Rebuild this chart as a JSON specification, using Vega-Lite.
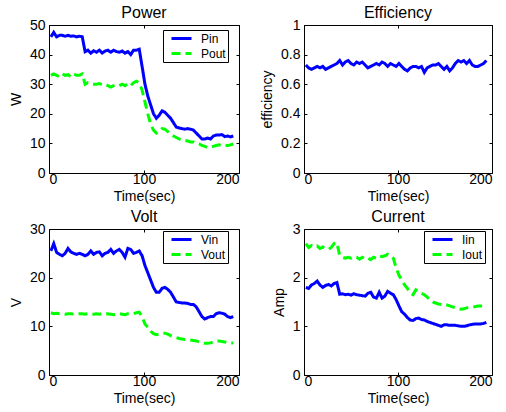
{
"$schema": "https://vega.github.io/schema/vega-lite/v6.json",
"padding": {"left": 8, "top": 4, "right": 5, "bottom": 2},
"datasets": {"d": [
{"t":2,"Pin":46,"Pout":33,"eff":0.73,"Vin":25.5,"Vout":12.8,"Iin":1.80,"Iout":2.70},
{"t":5,"Pin":47.5,"Pout":33.5,"eff":0.71,"Vin":27,"Vout":12.6,"Iin":1.78,"Iout":2.62},
{"t":8,"Pin":46,"Pout":33,"eff":0.70,"Vin":25.2,"Vout":12.7,"Iin":1.85,"Iout":2.66},
{"t":11,"Pin":46.5,"Pout":32.5,"eff":0.71,"Vin":24.8,"Vout":12.6,"Iin":1.88,"Iout":2.63},
{"t":14,"Pin":46.5,"Pout":33.5,"eff":0.72,"Vin":24.5,"Vout":12.6,"Iin":1.93,"Iout":2.65},
{"t":17,"Pin":46.2,"Pout":33,"eff":0.71,"Vin":25,"Vout":12.5,"Iin":1.85,"Iout":2.60},
{"t":20,"Pin":46.5,"Pout":33.2,"eff":0.72,"Vin":26,"Vout":12.6,"Iin":1.80,"Iout":2.63},
{"t":23,"Pin":46.2,"Pout":32.5,"eff":0.70,"Vin":25.3,"Vout":12.6,"Iin":1.84,"Iout":2.60},
{"t":26,"Pin":46.3,"Pout":33.5,"eff":0.71,"Vin":25,"Vout":12.5,"Iin":1.86,"Iout":2.58},
{"t":29,"Pin":46,"Pout":33,"eff":0.72,"Vin":24.8,"Vout":12.6,"Iin":1.83,"Iout":2.62},
{"t":32,"Pin":46.2,"Pout":33,"eff":0.73,"Vin":25,"Vout":12.6,"Iin":1.88,"Iout":2.70},
{"t":35,"Pin":46,"Pout":33.5,"eff":0.74,"Vin":24.8,"Vout":12.6,"Iin":1.90,"Iout":2.72},
{"t":38,"Pin":41,"Pout":30,"eff":0.76,"Vin":24.5,"Vout":12.5,"Iin":1.66,"Iout":2.45},
{"t":41,"Pin":41.5,"Pout":30.5,"eff":0.73,"Vin":24.8,"Vout":12.6,"Iin":1.67,"Iout":2.42},
{"t":44,"Pin":40.5,"Pout":30.2,"eff":0.75,"Vin":25.5,"Vout":12.5,"Iin":1.65,"Iout":2.40},
{"t":47,"Pin":41.3,"Pout":30,"eff":0.76,"Vin":24.8,"Vout":12.5,"Iin":1.66,"Iout":2.42},
{"t":50,"Pin":40.8,"Pout":30,"eff":0.74,"Vin":25.2,"Vout":12.6,"Iin":1.64,"Iout":2.40},
{"t":53,"Pin":41.5,"Pout":30.2,"eff":0.73,"Vin":25.3,"Vout":12.5,"Iin":1.67,"Iout":2.43},
{"t":56,"Pin":40.5,"Pout":29.8,"eff":0.75,"Vin":24.5,"Vout":12.6,"Iin":1.65,"Iout":2.42},
{"t":59,"Pin":41.2,"Pout":30,"eff":0.74,"Vin":25,"Vout":12.5,"Iin":1.64,"Iout":2.38},
{"t":62,"Pin":41.5,"Pout":29.5,"eff":0.75,"Vin":25.2,"Vout":12.6,"Iin":1.63,"Iout":2.42},
{"t":65,"Pin":40.8,"Pout":29,"eff":0.73,"Vin":25.8,"Vout":12.5,"Iin":1.62,"Iout":2.38},
{"t":68,"Pin":41.5,"Pout":29.5,"eff":0.71,"Vin":25,"Vout":12.4,"Iin":1.68,"Iout":2.40},
{"t":71,"Pin":41,"Pout":29.8,"eff":0.72,"Vin":25.5,"Vout":12.5,"Iin":1.70,"Iout":2.37},
{"t":74,"Pin":40.8,"Pout":29.5,"eff":0.73,"Vin":25.8,"Vout":12.6,"Iin":1.60,"Iout":2.42},
{"t":77,"Pin":41.2,"Pout":30,"eff":0.74,"Vin":25.2,"Vout":12.5,"Iin":1.58,"Iout":2.40},
{"t":80,"Pin":40.5,"Pout":29.5,"eff":0.73,"Vin":24.2,"Vout":12.4,"Iin":1.70,"Iout":2.45},
{"t":83,"Pin":41,"Pout":30.2,"eff":0.75,"Vin":26,"Vout":12.6,"Iin":1.58,"Iout":2.43},
{"t":86,"Pin":40,"Pout":29.5,"eff":0.74,"Vin":25.8,"Vout":12.6,"Iin":1.62,"Iout":2.45},
{"t":89,"Pin":41.5,"Pout":30.5,"eff":0.72,"Vin":25,"Vout":12.6,"Iin":1.72,"Iout":2.48},
{"t":92,"Pin":41.5,"Pout":31,"eff":0.74,"Vin":25.2,"Vout":12.8,"Iin":1.68,"Iout":2.44},
{"t":95,"Pin":41.8,"Pout":30.5,"eff":0.73,"Vin":25.5,"Vout":12.9,"Iin":1.65,"Iout":2.40},
{"t":98,"Pin":36,"Pout":28,"eff":0.72,"Vin":24.5,"Vout":12,"Iin":1.55,"Iout":2.20},
{"t":101,"Pin":30,"Pout":24,"eff":0.74,"Vin":22.5,"Vout":10.5,"Iin":1.42,"Iout":2.05},
{"t":104,"Pin":26,"Pout":20,"eff":0.72,"Vin":21,"Vout":9.8,"Iin":1.30,"Iout":1.95},
{"t":107,"Pin":23,"Pout":16.5,"eff":0.70,"Vin":19.5,"Vout":9,"Iin":1.25,"Iout":1.85},
{"t":110,"Pin":20,"Pout":14.5,"eff":0.69,"Vin":18,"Vout":8.5,"Iin":1.18,"Iout":1.78},
{"t":113,"Pin":18.5,"Pout":13.5,"eff":0.71,"Vin":17,"Vout":8.3,"Iin":1.13,"Iout":1.68},
{"t":116,"Pin":19.5,"Pout":14,"eff":0.72,"Vin":17,"Vout":8.4,"Iin":1.12,"Iout":1.65},
{"t":119,"Pin":21,"Pout":15,"eff":0.72,"Vin":17.8,"Vout":8.6,"Iin":1.16,"Iout":1.75},
{"t":122,"Pin":20.5,"Pout":14.8,"eff":0.71,"Vin":18,"Vout":8.6,"Iin":1.17,"Iout":1.72},
{"t":125,"Pin":19.5,"Pout":14,"eff":0.72,"Vin":17.6,"Vout":8.4,"Iin":1.14,"Iout":1.68},
{"t":128,"Pin":18.5,"Pout":13,"eff":0.68,"Vin":17,"Vout":8.1,"Iin":1.13,"Iout":1.65},
{"t":131,"Pin":17,"Pout":12.5,"eff":0.71,"Vin":16,"Vout":7.9,"Iin":1.10,"Iout":1.60},
{"t":134,"Pin":15.5,"Pout":12,"eff":0.72,"Vin":15,"Vout":7.7,"Iin":1.08,"Iout":1.55},
{"t":137,"Pin":15.2,"Pout":11.5,"eff":0.73,"Vin":14.9,"Vout":7.5,"Iin":1.06,"Iout":1.50},
{"t":140,"Pin":15,"Pout":11,"eff":0.73,"Vin":14.8,"Vout":7.4,"Iin":1.04,"Iout":1.48},
{"t":143,"Pin":14.8,"Pout":11,"eff":0.74,"Vin":14.8,"Vout":7.3,"Iin":1.02,"Iout":1.46},
{"t":146,"Pin":15,"Pout":10.8,"eff":0.72,"Vin":14.7,"Vout":7.3,"Iin":1.00,"Iout":1.45},
{"t":149,"Pin":14.8,"Pout":10.5,"eff":0.70,"Vin":14.5,"Vout":7.2,"Iin":1.03,"Iout":1.45},
{"t":152,"Pin":14.5,"Pout":10.5,"eff":0.72,"Vin":14.5,"Vout":7.1,"Iin":1.03,"Iout":1.44},
{"t":155,"Pin":13.5,"Pout":10,"eff":0.69,"Vin":14,"Vout":7,"Iin":1.02,"Iout":1.42},
{"t":158,"Pin":12.5,"Pout":9.8,"eff":0.71,"Vin":13,"Vout":6.8,"Iin":1.02,"Iout":1.40},
{"t":161,"Pin":11.5,"Pout":9.3,"eff":0.74,"Vin":12,"Vout":6.6,"Iin":1.02,"Iout":1.38},
{"t":164,"Pin":11.5,"Pout":9,"eff":0.76,"Vin":11.5,"Vout":6.5,"Iin":1.01,"Iout":1.36},
{"t":167,"Pin":11.8,"Pout":8.6,"eff":0.75,"Vin":11.8,"Vout":6.5,"Iin":1.00,"Iout":1.35},
{"t":170,"Pin":11.5,"Pout":8.7,"eff":0.76,"Vin":12,"Vout":6.6,"Iin":1.00,"Iout":1.36},
{"t":173,"Pin":12.5,"Pout":9,"eff":0.74,"Vin":12,"Vout":6.8,"Iin":1.01,"Iout":1.38},
{"t":176,"Pin":12.8,"Pout":9.3,"eff":0.76,"Vin":12.6,"Vout":7,"Iin":1.03,"Iout":1.39},
{"t":179,"Pin":12.8,"Pout":9.5,"eff":0.73,"Vin":12.8,"Vout":7,"Iin":1.04,"Iout":1.40},
{"t":182,"Pin":13,"Pout":9.3,"eff":0.72,"Vin":12.7,"Vout":6.9,"Iin":1.05,"Iout":1.40},
{"t":185,"Pin":12.3,"Pout":9.5,"eff":0.72,"Vin":12.5,"Vout":6.8,"Iin":1.05,"Iout":1.42},
{"t":188,"Pin":12.5,"Pout":9.2,"eff":0.73,"Vin":12,"Vout":6.7,"Iin":1.05,"Iout":1.42},
{"t":191,"Pin":12.2,"Pout":9.5,"eff":0.74,"Vin":11.8,"Vout":6.6,"Iin":1.06,"Iout":1.41},
{"t":194,"Pin":12.5,"Pout":9.8,"eff":0.76,"Vin":12,"Vout":6.6,"Iin":1.08,"Iout":1.40}
]},
"data": {"name": "d"},
"columns": 2,
"align": "each",
"spacing": {"column": 20, "row": 4},
"concat": [
{
 "width": 190, "height": 148,
 "title": "Power",
 "transform": [{"fold": ["Pin", "Pout"], "as": ["series", "value"]}],
 "layer": [
  {"mark": {"type": "line", "strokeWidth": 3},
   "encoding": {
    "x": {"field": "t", "type": "quantitative", "scale": {"domain": [0, 200], "nice": false}, "axis": {"values": [0, 100, 200], "title": "Time(sec)"}},
    "y": {"field": "value", "type": "quantitative", "scale": {"domain": [0, 50], "nice": false}, "axis": {"values": [0, 10, 20, 30, 40, 50], "title": "W"}},
    "color": {"field": "series", "type": "nominal", "scale": {"domain": ["Pin", "Pout"], "range": ["#0000ff", "#00ff00"]}, "legend": {"title": null, "legendX": 114, "legendY": 5}},
    "strokeDash": {"field": "series", "type": "nominal", "scale": {"domain": ["Pin", "Pout"], "range": [[1, 0], [9, 5]]}, "legend": {"title": null, "legendX": 114, "legendY": 5}}
   }},
  {"mark": {"type": "line", "opacity": 0},
   "encoding": {
    "x": {"field": "t", "type": "quantitative", "axis": {"orient": "top", "values": [0, 100, 200], "labels": false, "title": null}},
    "y": {"field": "value", "type": "quantitative", "axis": {"orient": "right", "values": [0, 10, 20, 30, 40, 50], "labels": false, "title": null}}
   }}
 ],
 "resolve": {"axis": {"x": "independent", "y": "independent"}}
},
{
 "width": 188, "height": 148,
 "title": "Efficiency",
 "layer": [
  {"mark": {"type": "line", "strokeWidth": 3, "color": "#0000ff"},
   "encoding": {
    "x": {"field": "t", "type": "quantitative", "scale": {"domain": [0, 200], "nice": false}, "axis": {"values": [0, 100, 200], "title": "Time(sec)"}},
    "y": {"field": "eff", "type": "quantitative", "scale": {"domain": [0, 1], "nice": false}, "axis": {"values": [0, 0.2, 0.4, 0.6, 0.8, 1], "format": "~g", "title": "efficiency"}}
   }},
  {"mark": {"type": "line", "opacity": 0},
   "encoding": {
    "x": {"field": "t", "type": "quantitative", "axis": {"orient": "top", "values": [0, 100, 200], "labels": false, "title": null}},
    "y": {"field": "eff", "type": "quantitative", "axis": {"orient": "right", "values": [0, 0.2, 0.4, 0.6, 0.8, 1], "labels": false, "title": null}}
   }}
 ],
 "resolve": {"axis": {"x": "independent", "y": "independent"}}
},
{
 "width": 190, "height": 146,
 "title": "Volt",
 "transform": [{"fold": ["Vin", "Vout"], "as": ["series", "value"]}],
 "layer": [
  {"mark": {"type": "line", "strokeWidth": 3},
   "encoding": {
    "x": {"field": "t", "type": "quantitative", "scale": {"domain": [0, 200], "nice": false}, "axis": {"values": [0, 100, 200], "title": "Time(sec)"}},
    "y": {"field": "value", "type": "quantitative", "scale": {"domain": [0, 30], "nice": false}, "axis": {"values": [0, 10, 20, 30], "title": "V"}},
    "color": {"field": "series", "type": "nominal", "scale": {"domain": ["Vin", "Vout"], "range": ["#0000ff", "#00ff00"]}, "legend": {"title": null, "legendX": 114, "legendY": 2}},
    "strokeDash": {"field": "series", "type": "nominal", "scale": {"domain": ["Vin", "Vout"], "range": [[1, 0], [9, 5]]}, "legend": {"title": null, "legendX": 114, "legendY": 2}}
   }},
  {"mark": {"type": "line", "opacity": 0},
   "encoding": {
    "x": {"field": "t", "type": "quantitative", "axis": {"orient": "top", "values": [0, 100, 200], "labels": false, "title": null}},
    "y": {"field": "value", "type": "quantitative", "axis": {"orient": "right", "values": [0, 10, 20, 30], "labels": false, "title": null}}
   }}
 ],
 "resolve": {"axis": {"x": "independent", "y": "independent"}}
},
{
 "width": 188, "height": 146,
 "title": "Current",
 "transform": [{"fold": ["Iin", "Iout"], "as": ["series", "value"]}],
 "layer": [
  {"mark": {"type": "line", "strokeWidth": 3},
   "encoding": {
    "x": {"field": "t", "type": "quantitative", "scale": {"domain": [0, 200], "nice": false}, "axis": {"values": [0, 100, 200], "title": "Time(sec)"}},
    "y": {"field": "value", "type": "quantitative", "scale": {"domain": [0, 3], "nice": false}, "axis": {"values": [0, 1, 2, 3], "title": "Amp"}},
    "color": {"field": "series", "type": "nominal", "scale": {"domain": ["Iin", "Iout"], "range": ["#0000ff", "#00ff00"]}, "legend": {"title": null, "legendX": 120, "legendY": 2}},
    "strokeDash": {"field": "series", "type": "nominal", "scale": {"domain": ["Iin", "Iout"], "range": [[1, 0], [9, 5]]}, "legend": {"title": null, "legendX": 120, "legendY": 2}}
   }},
  {"mark": {"type": "line", "opacity": 0},
   "encoding": {
    "x": {"field": "t", "type": "quantitative", "axis": {"orient": "top", "values": [0, 100, 200], "labels": false, "title": null}},
    "y": {"field": "value", "type": "quantitative", "axis": {"orient": "right", "values": [0, 1, 2, 3], "labels": false, "title": null}}
   }}
 ],
 "resolve": {"axis": {"x": "independent", "y": "independent"}}
}
],
"resolve": {"scale": {"x": "independent", "y": "independent", "color": "independent", "strokeDash": "independent"}, "legend": {"color": "independent", "strokeDash": "independent"}},
"config": {
 "font": "Liberation Sans",
 "background": "white",
 "view": {"stroke": "black", "strokeWidth": 1},
 "title": {"font": "Liberation Sans", "fontSize": 16, "fontWeight": "normal", "color": "black", "offset": -3},
 "axis": {"domain": false, "grid": false, "tickSize": -3, "tickColor": "black", "labelPadding": 7, "labelFont": "Liberation Sans", "labelFontSize": 14, "labelColor": "black", "titleFont": "Liberation Sans", "titleFontSize": 14, "titleFontWeight": "normal", "titleColor": "black", "titlePadding": 3},
 "axisX": {"labelPadding": 2},
 "axisY": {"titlePadding": 6},
 "legend": {"orient": "none", "fillColor": "white", "strokeColor": "black", "strokeWidth": 1, "padding": 2, "clipHeight": 13, "rowPadding": 2, "symbolType": "stroke", "symbolSize": 400, "symbolStrokeWidth": 3, "symbolOffset": 5, "labelFont": "Liberation Sans", "labelFontSize": 12, "labelColor": "black", "labelOffset": 8, "labelExpr": "datum.label + '  '"}
}
}
